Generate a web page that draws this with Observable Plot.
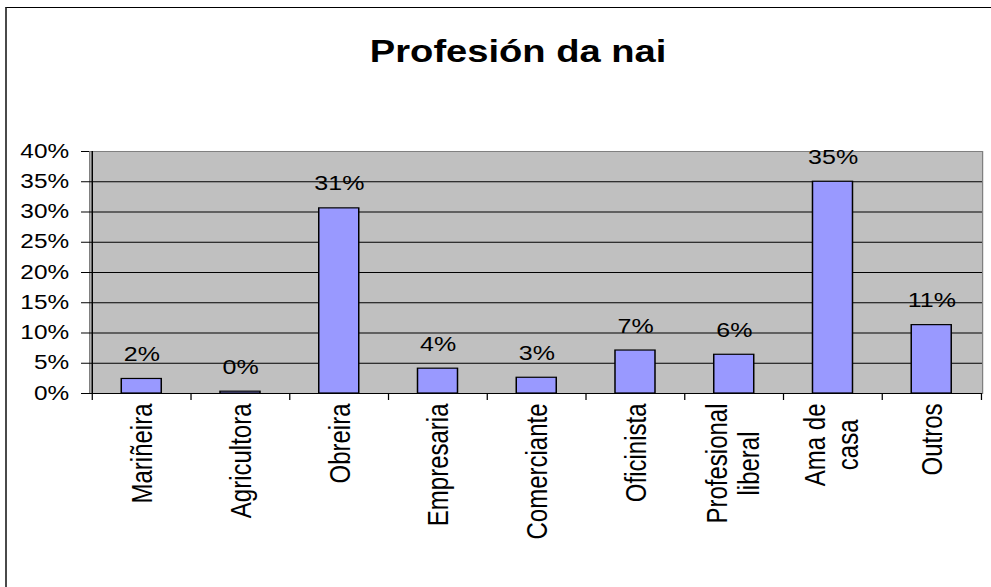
<!DOCTYPE html>
<html><head><meta charset="utf-8">
<script src="https://cdn.jsdelivr.net/npm/d3@7"></script>
<script src="https://cdn.jsdelivr.net/npm/@observablehq/plot@0.6"></script>
<style>
html,body{margin:0;padding:0;background:#fff;overflow:hidden;width:991px;height:587px;}
#chart{position:absolute;left:0;top:0;transform-origin:0 0;}
#border{position:absolute;left:5px;top:7px;width:1100px;height:640px;border-top:1px solid #000;border-left:2px solid #4a4a4a;box-sizing:border-box;pointer-events:none;}
</style></head><body>
<div id="chart"></div>
<div id="border"></div>
<script>
const title = "Profesión da nai";
const categories = ["Mariñeira","Agricultora","Obreira","Empresaria","Comerciante","Oficinista","Profesional\nliberal","Ama de\ncasa","Outros"];
const values = [0.024, 0.003, 0.306, 0.041, 0.026, 0.071, 0.064, 0.350, 0.113];
const yTicks = [0, 0.05, 0.10, 0.15, 0.20, 0.25, 0.30, 0.35, 0.40];

const data = categories.map((c, i) => ({cat: c, value: values[i]}));
const fmt = d3.format(".0%");

// Layout (horizontal stretch emulates the reference's wide aspect)
const SX = 1.25;
const W = 991 / SX, H = 587;
const mL = 89 / SX, mR = W - 982 / SX, mT = 151, mB = H - 393;
const step = (W - mL - mR) / categories.length;
const frameH = H - mT - mB;
const FONT = '"Liberation Sans", Arial, sans-serif';
const catFont = 24;

const ctx = document.createElement("canvas").getContext("2d");
ctx.font = `${catFont}px "Liberation Sans"`;
const catLabelMarks = categories.map(c => {
  const lines = c.split("\n");
  const w = Math.max(...lines.map(s => ctx.measureText(s).width));
  return Plot.text([c], {
    x: d => d, text: d => d, frameAnchor: "bottom", rotate: -90,
    textAnchor: "middle", lineHeight: 1.08, dy: 10 + w / 2,
    dx: 0.34 * catFont + (lines.length - 1) * 0.48 * catFont,
    fontSize: catFont, fill: "black"
  });
});

const plot = Plot.plot({
  width: W, height: H,
  marginLeft: mL, marginRight: mR, marginTop: mT, marginBottom: mB,
  style: {fontFamily: FONT, color: "black", background: "transparent", overflow: "visible"},
  x: {type: "band", domain: categories, paddingInner: 0.6, paddingOuter: 0.3, axis: null},
  y: {domain: [0, 0.4], axis: null},
  marks: [
    Plot.frame({fill: "#c0c0c0", stroke: "#808080"}),
    Plot.ruleY(yTicks.filter(t => t > 0 && t < 0.4), {stroke: "black", strokeWidth: 1}),
    Plot.barY(data, {x: "cat", y: "value", fill: "#9999ff", stroke: "black", strokeWidth: 1.2}),
    Plot.ruleY([0], {stroke: "black", strokeWidth: 1.2}),
    // y axis line
    Plot.ruleX([categories[0]], {x: d => d, dx: -step / 2, stroke: "black", strokeWidth: 1.2}),
    // category boundary ticks
    Plot.ruleX(categories, {x: d => d, dx: -step / 2, stroke: "black", insetTop: frameH, insetBottom: -7}),
    Plot.ruleX([categories[categories.length - 1]], {x: d => d, dx: step / 2, stroke: "black", insetTop: frameH, insetBottom: -7}),
    Plot.axisY({ticks: yTicks, tickFormat: fmt, tickSize: 6.4, tickPadding: 10, fontSize: 19.5, label: null, stroke: "black", fill: "black"}),
    Plot.text(data, {x: "cat", y: "value", text: d => fmt(d.value), dy: -18, lineAnchor: "bottom", fontSize: 20, fill: "black"}),
    ...catLabelMarks,
    Plot.text([title], {text: d => d, frameAnchor: "top", dx: 414 - (mL + (W - mR)) / 2, dy: 62 - mT, lineAnchor: "bottom", fontSize: 30.5, fontWeight: "bold", fill: "black"})
  ]
});

const chart = document.getElementById("chart");
chart.style.width = W + "px";
chart.style.height = H + "px";
chart.style.transform = `scaleX(${SX})`;
chart.appendChild(plot);
</script>
</body></html>
